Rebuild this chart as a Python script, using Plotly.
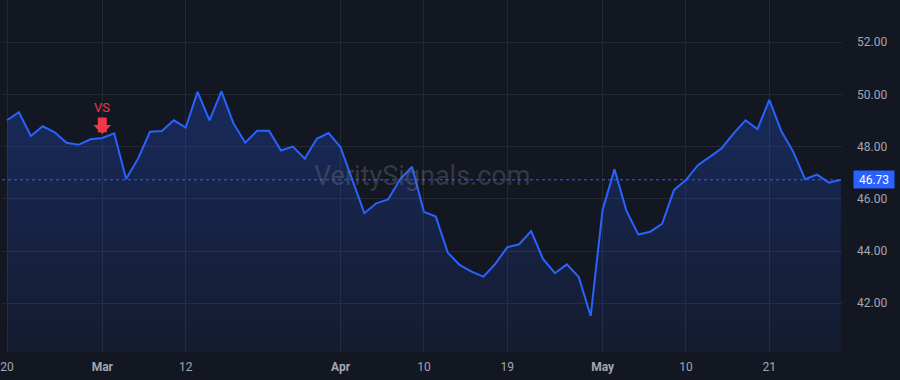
import plotly.graph_objects as go

# Trading days (weekends and market holidays are skipped on the time scale)
dates = [
    "2024-02-20", "2024-02-21", "2024-02-22", "2024-02-23", "2024-02-26", "2024-02-27", "2024-02-28", "2024-02-29",
    "2024-03-01", "2024-03-04", "2024-03-05", "2024-03-06", "2024-03-07", "2024-03-08", "2024-03-11", "2024-03-12",
    "2024-03-13", "2024-03-14", "2024-03-15", "2024-03-18", "2024-03-19", "2024-03-20", "2024-03-21", "2024-03-22",
    "2024-03-25", "2024-03-26", "2024-03-27", "2024-03-28",
    "2024-04-01", "2024-04-02", "2024-04-03", "2024-04-04", "2024-04-05", "2024-04-08", "2024-04-09", "2024-04-10",
    "2024-04-11", "2024-04-12", "2024-04-15", "2024-04-16", "2024-04-17", "2024-04-18", "2024-04-19", "2024-04-22",
    "2024-04-23", "2024-04-24", "2024-04-25", "2024-04-26", "2024-04-29", "2024-04-30",
    "2024-05-01", "2024-05-02", "2024-05-03", "2024-05-06", "2024-05-07", "2024-05-08", "2024-05-09", "2024-05-10",
    "2024-05-13", "2024-05-14", "2024-05-15", "2024-05-16", "2024-05-17", "2024-05-20", "2024-05-21", "2024-05-22",
    "2024-05-23", "2024-05-24", "2024-05-28", "2024-05-29", "2024-05-30",
]

prices = [
    49.01, 49.32, 48.41, 48.78, 48.55, 48.15, 48.07, 48.28,
    48.33, 48.51, 46.76, 47.54, 48.57, 48.60, 49.01, 48.73,
    50.10, 49.01, 50.12, 48.90, 48.15, 48.61, 48.61, 47.85,
    48.00, 47.54, 48.30, 48.52,
    47.98, 46.72, 45.45, 45.83, 45.98, 46.75, 47.23, 45.50,
    45.32, 43.94, 43.47, 43.21, 43.02, 43.51, 44.15, 44.26,
    44.76, 43.70, 43.15, 43.49, 43.00, 41.51,
    45.57, 47.13, 45.55, 44.63, 44.74, 45.04, 46.34, 46.72,
    47.29, 47.61, 47.94, 48.51, 49.01, 48.67, 49.79, 48.60,
    47.81, 46.75, 46.93, 46.62, 46.73,
]

x_tick_dates = ["2024-02-20", "2024-03-01", "2024-03-12", "2024-04-01", "2024-04-10",
                "2024-04-19", "2024-05-01", "2024-05-10", "2024-05-21"]
x_tick_text = ["20", "<b>Mar</b>", "12", "<b>Apr</b>", "10", "19", "<b>May</b>", "10", "21"]

y_ticks = [42, 44, 46, 48, 50, 52]

signal_date = "2024-03-01"
signal_label = "VS"
watermark = "VeritySignals.com"

BG = "#131722"
GRID = "#242833"
LINE = "#2962ff"
TEXT = "#a3a6af"
RED = "#f23645"

last_price = prices[-1]
signal_price = prices[dates.index(signal_date)]

fig = go.Figure()
fig.add_trace(go.Scatter(
    x=dates, y=prices, mode="lines",
    line=dict(color=LINE, width=2),
    fill="tozeroy",
    fillgradient=dict(
        type="vertical",
        colorscale=[[0, "rgba(41,98,255,0.06)"], [1, "rgba(41,98,255,0.26)"]],
        start=40.1, stop=max(prices),
    ),
    hoverinfo="skip",
    showlegend=False,
))

# dotted last-price line
fig.add_shape(type="line", xref="paper", x0=0, x1=1, yref="y", y0=last_price, y1=last_price,
              line=dict(color=LINE, width=1, dash="dot"), layer="above")

annotations = [
    # watermark
    dict(xref="paper", yref="paper", x=0.5, y=0.5, text=watermark, showarrow=False,
         font=dict(family="Roboto, Arial, sans-serif", size=27, color="rgba(120,123,134,0.34)"),
         xanchor="center", yanchor="middle"),
    # signal arrow
    dict(x=signal_date, y=signal_price, xref="x", yref="y", text="", showarrow=True,
         ax=0, ay=-22, standoff=4, arrowhead=1, arrowwidth=9, arrowsize=0.33, arrowcolor=RED),
    # signal text
    dict(x=signal_date, y=signal_price, xref="x", yref="y", text=signal_label, showarrow=False,
         yshift=31, font=dict(family="Roboto, Arial, sans-serif", size=13, color=RED),
         xanchor="center", yanchor="middle"),
    # last price label
    dict(xref="paper", yref="y", x=1, y=last_price, text=f"{last_price:.2f}", showarrow=False,
         xanchor="left", yanchor="middle", xshift=11, bgcolor=LINE, borderpad=1,
         width=38, height=15, align="center",
         font=dict(family="Roboto, Arial, sans-serif", size=12, color="#ffffff")),
]

fig.update_layout(
    width=900, height=380,
    margin=dict(l=0, r=58, t=0, b=28),
    paper_bgcolor=BG, plot_bgcolor=BG,
    font=dict(family="Roboto, Arial, sans-serif", size=12, color=TEXT),
    showlegend=False,
    annotations=annotations,
    xaxis=dict(
        type="category", range=[-0.42, len(dates) - 0.9],
        tickmode="array", tickvals=x_tick_dates, ticktext=x_tick_text,
        showgrid=True, gridcolor=GRID, gridwidth=1,
        zeroline=False, showline=False, ticks="", ticklabelstandoff=6,
        tickfont=dict(size=12, color=TEXT), fixedrange=True,
    ),
    yaxis=dict(
        side="right", range=[40.13, 53.62],
        tickmode="array", tickvals=y_ticks, tickformat=".2f",
        showgrid=True, gridcolor=GRID, gridwidth=1,
        zeroline=False, showline=False, ticks="", ticklabelstandoff=14,
        tickfont=dict(size=12, color=TEXT), fixedrange=True,
    ),
)

fig.write_html("out.html", config={"displayModeBar": False})
